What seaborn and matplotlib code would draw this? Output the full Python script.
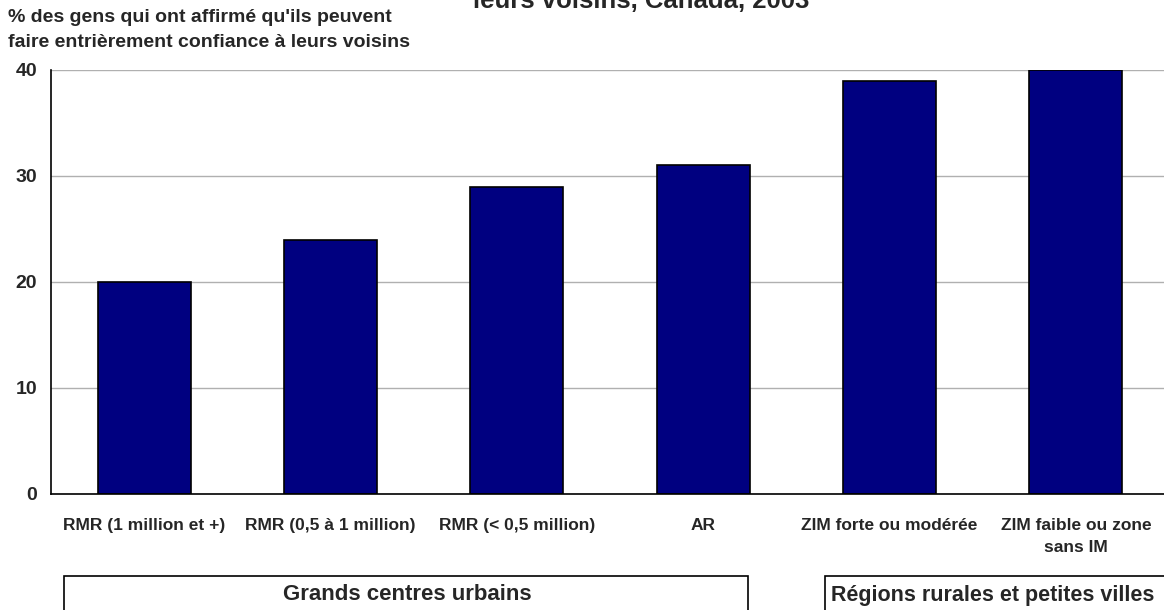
import matplotlib
matplotlib.use("Agg")
import matplotlib.pyplot as plt
from matplotlib.patches import Rectangle
import seaborn as sns
import pandas as pd

categories = ["RMR (1 million et +)", "RMR (0,5 à 1 million)", "RMR (< 0,5 million)",
              "AR", "ZIM forte ou modérée", "ZIM faible ou zone\nsans IM"]
values = [20, 24, 29, 31, 39, 40]
yticks = [0, 10, 20, 30, 40]
groups = ["Grands centres urbains", "Régions rurales et petites villes"]
title_visible = "leurs voisins, Canada, 2003"
ylabel = "% des gens qui ont affirmé qu'ils peuvent\nfaire entrièrement confiance à leurs voisins"

sns.set_theme(style="white")
plt.rcParams['font.family'] = ['Liberation Sans', 'DejaVu Sans']
plt.rcParams['font.weight'] = 'bold'

W, H = 1164, 610
fig = plt.figure(figsize=(W / 100, H / 100), dpi=100)
ax = fig.add_axes([51 / W, 1 - 494 / H, 1118 / W, (494 - 70) / H])

df = pd.DataFrame({"cat": categories, "val": values})
sns.barplot(data=df, x="cat", y="val", ax=ax, color="#000080", width=0.5,
            edgecolor="black", linewidth=1.2, saturation=1)

ax.set_xlim(-0.5, 5.5)
ax.set_ylim(0, 40)
ax.set_yticks(yticks)
ax.set_yticklabels([str(t) for t in yticks], fontsize=14, fontweight='bold')
ax.yaxis.grid(True, color="#b0b0b0", linewidth=1)
ax.set_axisbelow(True)
ax.tick_params(axis='y', length=0, pad=10)
ax.tick_params(axis='x', which='major', length=0, pad=17, labelsize=12.5)
for lbl in ax.get_xticklabels():
    lbl.set_fontweight('bold')
    lbl.set_linespacing(1.6)
ax.set_xticks([i + 0.5 for i in range(len(categories) - 1)], minor=True)
ax.tick_params(axis='x', which='minor', direction='in', length=4, width=1, color='#333333')
ax.set_xlabel("")
ax.set_ylabel("")
for s in ['top', 'right']:
    ax.spines[s].set_visible(False)
ax.spines['left'].set_color('black')
ax.spines['bottom'].set_color('black')
ax.spines['left'].set_linewidth(1.2)
ax.spines['bottom'].set_linewidth(1.2)

fig.text(8 / W, 1 - 9 / H, ylabel, fontsize=14, fontweight='bold', ha='left', va='top',
         linespacing=1.65)
fig.text(641 / W, 1 - 8 / H, title_visible, fontsize=18.5, fontweight='bold',
         ha='center', va='baseline')

# group boxes
for (x0, x1, cx), g in zip([(64, 748, 407), (825, 1190, 993)], groups):
    fig.patches.append(Rectangle((x0 / W, -20 / H), (x1 - x0) / W, (20 + H - 576) / H,
                                 transform=fig.transFigure, fill=False,
                                 edgecolor='black', linewidth=1.2))
    fig.text(cx / W, 1 - 595 / H, g, fontsize=16 if g == groups[0] else 15.5,
             fontweight='bold', ha='center', va='center')

fig.savefig("out.png", dpi=100)
